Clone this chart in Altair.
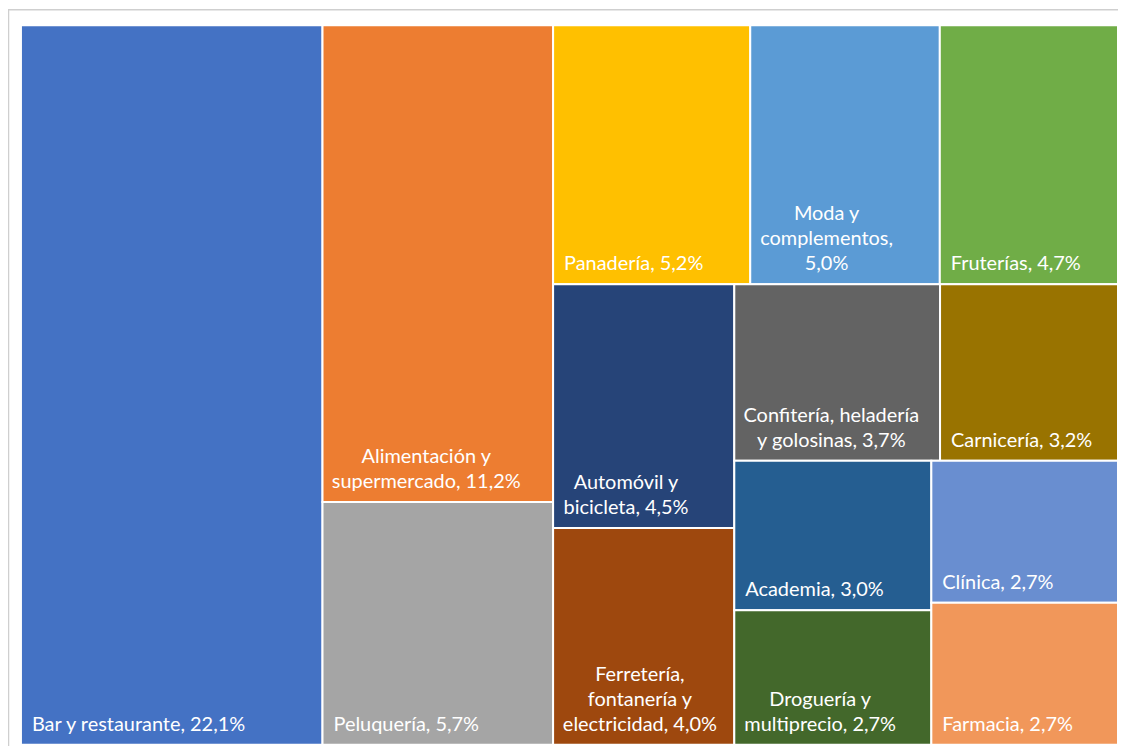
import altair as alt
import pandas as pd

# ---- data ----
categories = [
    "Bar y restaurante", "Alimentación y supermercado", "Peluquería",
    "Panadería", "Moda y complementos", "Fruterías",
    "Automóvil y bicicleta", "Ferretería, fontanería y electricidad",
    "Confitería, heladería y golosinas", "Carnicería", "Academia",
    "Droguería y multiprecio", "Clínica", "Farmacia",
]
shares = [22.1, 11.2, 5.7, 5.2, 5.0, 4.7, 4.5, 4.0, 3.7, 3.2, 3.0, 2.7, 2.7, 2.7]
labels = [
    "Bar y restaurante, 22,1%",
    "Alimentación y\nsupermercado, 11,2%",
    "Peluquería, 5,7%",
    "Panadería, 5,2%",
    "Moda y\ncomplementos,\n5,0%",
    "Fruterías, 4,7%",
    "Automóvil y\nbicicleta, 4,5%",
    "Ferretería,\nfontanería y\nelectricidad, 4,0%",
    "Confitería, heladería\ny golosinas, 3,7%",
    "Carnicería, 3,2%",
    "Academia, 3,0%",
    "Droguería y\nmultiprecio, 2,7%",
    "Clínica, 2,7%",
    "Farmacia, 2,7%",
]
colors = [
    "#4472C4", "#ED7D31", "#A5A5A5", "#FFC000", "#5B9BD5", "#70AD47",
    "#264478", "#9E480E", "#636363", "#997300", "#255E91", "#43682B",
    "#698ED0", "#F1975A",
]
# number of tiles per strip of the treemap (strip direction follows the
# shorter side of the remaining area, as in a squarified treemap)
strip_counts = [1, 2, 3, 2, 2, 2, 1, 1]

# ---- layout ----
W, H = 1101, 722
FONT = "Lato"
FS = 20
LH = 25
PAD = 11


def treemap(values, counts, w, h):
    x, y, cw, ch = 0.0, 0.0, float(w), float(h)
    rects = []
    i = 0
    remaining = float(sum(values))
    for n in counts:
        grp = values[i:i + n]
        s = float(sum(grp))
        if cw >= ch:
            sw = cw * s / remaining
            yy = y
            for v in grp:
                hh = ch * v / s
                rects.append((x, yy, x + sw, yy + hh))
                yy += hh
            x += sw
            cw -= sw
        else:
            sh = ch * s / remaining
            xx = x
            for v in grp:
                ww = cw * v / s
                rects.append((xx, y, xx + ww, y + sh))
                xx += ww
            y += sh
            ch -= sh
        remaining -= s
        i += n
    return rects


CHAR_W = {" ": 0.19, ",": 0.22, ".": 0.22, "%": 0.78, "i": 0.24, "í": 0.24,
          "l": 0.24, "j": 0.24, "t": 0.34, "f": 0.31, "r": 0.36, "m": 0.8,
          "w": 0.74, "s": 0.40, "c": 0.44, "a": 0.48, "e": 0.50, "y": 0.49,
          "v": 0.49, "g": 0.49, "z": 0.43}


def text_width(s):
    tot = 0.0
    for ch in s:
        if ch in CHAR_W:
            tot += CHAR_W[ch]
        elif ch.isdigit():
            tot += 0.58
        elif ch.isupper():
            tot += 0.64
        else:
            tot += 0.53
    return tot * FS


rects = treemap(shares, strip_counts, W, H)
rows = []
for cat, v, lab, (x0, y0, x1, y1) in zip(categories, shares, labels, rects):
    lines = lab.split("\n")
    multi = len(lines) > 1
    bw = max(text_width(l) for l in lines)
    tx = x0 + PAD + 2 + bw / 2 if multi else x0 + PAD
    ty = y1 - (len(lines) - 1) * LH
    rows.append(dict(cat=cat, share=v, label=lab, x0=x0, x1=x1, y0=y0, y1=y1,
                     tx=tx, ty=ty, multi=multi))
df = pd.DataFrame(rows)

xs = alt.Scale(domain=[0, W], nice=False, zero=False)
ys = alt.Scale(domain=[0, H], nice=False, zero=False, reverse=True)

base = alt.Chart(df)

tiles = base.mark_rect(stroke="white", strokeWidth=2).encode(
    x=alt.X("x0:Q", scale=xs, axis=None),
    x2="x1:Q",
    y=alt.Y("y0:Q", scale=ys, axis=None),
    y2="y1:Q",
    color=alt.Color("cat:N", scale=alt.Scale(domain=categories, range=colors), legend=None),
    tooltip=["cat:N", "share:Q"],
)

single = base.transform_filter("!datum.multi").mark_text(
    align="left", baseline="bottom", dy=-10, font=FONT, fontSize=FS,
    color="white", lineBreak="\n", lineHeight=LH,
).encode(
    x=alt.X("tx:Q", scale=xs, axis=None),
    y=alt.Y("ty:Q", scale=ys, axis=None),
    text="label:N",
)

multi = base.transform_filter("datum.multi").mark_text(
    align="center", baseline="bottom", dy=-10, font=FONT, fontSize=FS,
    color="white", lineBreak="\n", lineHeight=LH,
).encode(
    x=alt.X("tx:Q", scale=xs, axis=None),
    y=alt.Y("ty:Q", scale=ys, axis=None),
    text="label:N",
)

frame = alt.Chart(pd.DataFrame({"k": [0]})).mark_rect(
    filled=False, stroke="#CFCFCF", strokeWidth=1.5,
).encode(
    x=alt.value(-12.5), x2=alt.value(W + 40),
    y=alt.value(-15.5), y2=alt.value(H + 40),
)

chart = alt.layer(frame, tiles, single, multi).properties(
    width=W, height=H,
    padding={"left": 13, "top": 16, "right": 0, "bottom": 0},
    autosize=alt.AutoSizeParams(type="none"),
).configure_view(strokeWidth=0)

chart.save("out.html", embed_options={"renderer": "svg", "actions": False})
